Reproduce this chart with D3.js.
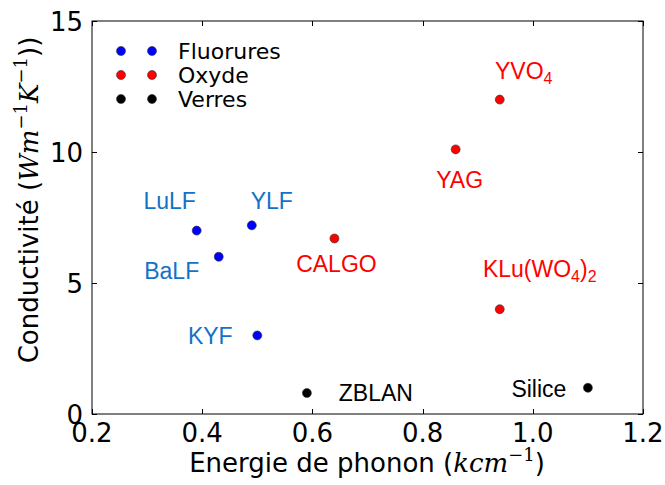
<!DOCTYPE html>
<html><head><meta charset="utf-8">
<script src="https://cdn.jsdelivr.net/npm/d3@7/dist/d3.min.js"></script>
<style>body{margin:0;background:#fff}svg{display:block}</style>
</head><body>
<svg id="c" width="665" height="485"></svg>
<script>
// ---- data ----
const names   = ["LuLF","BaLF","YLF","KYF","CALGO","YAG","YVO4","KLu(WO4)2","ZBLAN","Silice"];
const groups  = ["Fluorures","Fluorures","Fluorures","Fluorures","Oxyde","Oxyde","Oxyde","Oxyde","Verres","Verres"];
const phonon  = [0.39, 0.43, 0.49, 0.50, 0.64, 0.86, 0.94, 0.94, 0.59, 1.10];
const conduct = [7.0, 6.0, 7.2, 3.0, 6.7, 10.1, 12.0, 4.0, 0.8, 1.0];
const legendLabels = ["Fluorures","Oxyde","Verres"];
const xTicks = [0.2, 0.4, 0.6, 0.8, 1.0, 1.2];
const yTicks = [0, 5, 10, 15];

// ---- layout / style ----
const markerColor = {Fluorures:"#0000ff", Oxyde:"#ff0000", Verres:"#000000"};
const labelColor  = {Fluorures:"#1172c8", Oxyde:"#ff0000", Verres:"#000000"};
// label offsets (pixels) relative to each point
const labelOffset = [[-27,-22],[-47,22],[20,-16],[-47,9],[2,34],[4,39],[24,-21],[40,-32],[69,8],[-49,9]];
const L=92, R=643, T=21, B=414;
const svg = d3.select("#c");
const x = d3.scaleLinear().domain([0.2,1.2]).range([L,R]);
const y = d3.scaleLinear().domain([0,15]).range([B,T]);
const tickFont = "'DejaVu Sans', sans-serif";
const annFont = "'Liberation Sans', Arial, sans-serif";

// frame
svg.append("rect").attr("x",L).attr("y",T).attr("width",R-L).attr("height",B-T)
  .attr("fill","none").attr("stroke","#000").attr("stroke-width",1);

const tl = 5;
// x ticks
xTicks.forEach(v=>{
  const px = Math.round(x(v))+0.5;
  svg.append("line").attr("x1",px).attr("x2",px).attr("y1",B).attr("y2",B-tl).attr("stroke","#000");
  svg.append("line").attr("x1",px).attr("x2",px).attr("y1",T).attr("y2",T+tl).attr("stroke","#000");
  svg.append("text").attr("x",x(v)).attr("y",442).attr("text-anchor","middle")
    .attr("font-family",tickFont).attr("font-size",26).text(d3.format(".1f")(v));
});
yTicks.forEach(v=>{
  const py = Math.round(y(v))+0.5;
  svg.append("line").attr("x1",L).attr("x2",L+tl).attr("y1",py).attr("y2",py).attr("stroke","#000");
  svg.append("line").attr("x1",R).attr("x2",R-tl).attr("y1",py).attr("y2",py).attr("stroke","#000");
  svg.append("text").attr("x",83).attr("y",y(v)+9.5).attr("text-anchor","end")
    .attr("font-family",tickFont).attr("font-size",26).text(v);
});

// x axis label
const xl = svg.append("text").attr("x",367).attr("y",472).attr("text-anchor","middle")
  .attr("font-family",tickFont).attr("font-size",26);
xl.append("tspan").text("Energie de phonon (");
xl.append("tspan").attr("font-family","'DejaVu Serif', serif").attr("font-style","italic").text("kcm");
xl.append("tspan").attr("font-family","'DejaVu Serif', serif").attr("font-size",18).attr("dy",-11).text("−1");
xl.append("tspan").attr("dy",11).text(")");

// y axis label
const yl = svg.append("text").attr("transform","translate(38,200) rotate(-90)").attr("text-anchor","middle")
  .attr("font-family",tickFont).attr("font-size",26);
yl.append("tspan").text("Conductivité (");
yl.append("tspan").attr("font-family","'DejaVu Serif', serif").attr("font-style","italic").text("Wm");
yl.append("tspan").attr("font-family","'DejaVu Serif', serif").attr("font-size",18).attr("dy",-11).text("−1");
yl.append("tspan").attr("font-family","'DejaVu Serif', serif").attr("font-style","italic").attr("dy",11).text("K");
yl.append("tspan").attr("font-family","'DejaVu Serif', serif").attr("font-size",18).attr("dy",-11).text("−1");
yl.append("tspan").attr("dy",11).text("))");

// points
svg.selectAll("circle.pt").data(names).enter().append("circle").attr("class","pt")
  .attr("cx",(d,i)=>x(phonon[i])).attr("cy",(d,i)=>y(conduct[i])).attr("r",4.5)
  .attr("fill",(d,i)=>markerColor[groups[i]]).attr("stroke","#333").attr("stroke-width",0.6);

// labels
names.forEach((n,i)=>{
  const t = svg.append("text").attr("x",x(phonon[i])+labelOffset[i][0]).attr("y",y(conduct[i])+labelOffset[i][1])
    .attr("text-anchor","middle").attr("font-family",annFont).attr("font-size",23)
    .attr("fill",labelColor[groups[i]]);
  // render digits following "O" as subscripts, and trailing ")2" subscript
  const parts = n.match(/[A-Za-z()]+|\d+/g);
  let sub=false;
  parts.forEach(p=>{
    if (/^\d+$/.test(p)) {
      t.append("tspan").attr("font-size",16).attr("dy",sub?0:5).text(p); sub=true;
    } else {
      t.append("tspan").attr("dy",sub?-5:0).text(p); sub=false;
    }
  });
});

// legend
const ly = [51,75,99];
legendLabels.forEach((g,i)=>{
  [121,152].forEach(cx=>{
    svg.append("circle").attr("cx",cx).attr("cy",ly[i]).attr("r",4.5)
      .attr("fill",markerColor[g]).attr("stroke","#333").attr("stroke-width",0.6);
  });
  svg.append("text").attr("x",178).attr("y",ly[i]+8).attr("font-family",tickFont)
    .attr("font-size",22).text(g);
});
</script>
</body></html>
